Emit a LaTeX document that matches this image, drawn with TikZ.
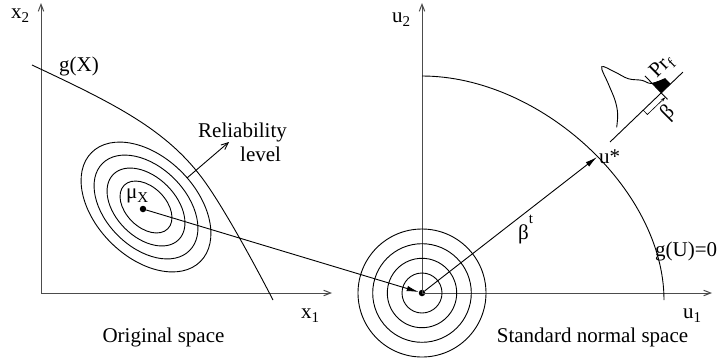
\documentclass[tikz,border=0pt]{standalone}
\usepackage{fontspec}
\setmainfont{Liberation Serif}
\usetikzlibrary{arrows.meta}
\newcommand\lsub[1]{\raisebox{-0.22em}{\fontsize{15}{15}\selectfont #1}}
\newcommand\lsup[1]{\raisebox{0.72em}{\fontsize{15}{15}\selectfont #1}}
\begin{document}
\begin{tikzpicture}[x=1pt,y=-1pt,
  lbl/.style={font=\fontsize{21}{25}\selectfont, inner sep=0pt},
  axis/.style={draw=black!70, line width=1pt, -{Straight Barb[length=7pt,width=5.5pt]}},
  curve/.style={line width=0.9pt},
  bigarrow/.style={line width=0.9pt, -{Latex[length=12pt,width=5.5pt]}},
  dot/.style={circle, fill=black, inner sep=0pt, minimum size=6.5pt}]
\useasboundingbox (0,0) rectangle (723,360);

% ---------- left panel ----------
\coordinate (O1) at (41,293);
\coordinate (X2) at (41,3);
\coordinate (X1) at (332,293);
\draw[axis] (O1) -- (X2);
\draw[axis] (O1) -- (X1);

\coordinate (EC) at (146,207);
\foreach \s in {1,0.8,0.6,0.4}
  \draw[curve, rotate around={-45:(EC)}] (EC) ellipse [x radius=77*\s, y radius=50*\s];

\draw[curve] (32,65) .. controls (115,104) and (168,130) .. (205,182)
             .. controls (225,210) and (255,265) .. (273,300);

\coordinate (RL0) at (187,178);
\coordinate (RL1) at (229,142);
\draw[curve, -{Straight Barb[length=7pt,width=6pt]}] (RL0) -- (RL1);

\node[dot] (mu) at (143,209) {};

\node[lbl, anchor=base west] (x2l) at (11,18) {x\lsub{2}};
\node[lbl, anchor=base west] (gxl) at (59,71) {g(X)};
\node[lbl, anchor=base west] (rel) at (198,137) {Reliability};
\node[lbl, anchor=base west] (lev) at (240,161) {level};
\node[lbl, anchor=base west] (mul) at (126,198) {μ\lsub{X}};
\node[lbl, anchor=base west] (x1l) at (301,318) {x\lsub{1}};
\node[lbl, anchor=base] (orig) at (163.5,342) {Original space};

% ---------- right panel ----------
\node[dot] (O2) at (422,293) {};
\coordinate (U2) at (422,3);
\coordinate (U1) at (712,293);
\draw[axis] (O2.center) -- (U2);
\draw[axis] (O2.center) -- (U1);

\foreach \r in {20,34.7,49.3,64}
  \draw[curve] (O2.center) circle[radius=\r];

\coordinate (G0) at (422,76);
\coordinate (G1) at (664,300);
\draw[curve] (G0) .. controls (540.6,76) and (664,190) .. (G1);

\coordinate (us) at (597,157);
\draw[bigarrow] (O2) -- (us);
\draw[bigarrow] (mu) -- (O2);

\node[lbl, anchor=base west] (u2l) at (392,22) {u\lsub{2}};
\node[lbl, anchor=base west] (usl) at (599,163) {u*};
\node[lbl, anchor=base west] (btl) at (518,239) {β\lsup{t}};
\node[lbl, anchor=base west] (gul) at (655,256) {g(U)=0};
\node[lbl, anchor=base west] (u1l) at (683,318) {u\lsub{1}};
\node[lbl, anchor=base] (std) at (592.5,342) {Standard normal space};

% ---------- pdf sketch ----------
\begin{scope}[shift={(610,142)}, rotate=43.8, yscale=-1]
  \draw[curve] (0,0) -- (101,0);
  \fill (71,0) -- (71,13.4) -- (77,10.5) -- (84,7.5) -- (84,0) -- cycle;
  \draw[curve] plot[smooth, tension=0.6] coordinates
    {(15,6) (25,15) (32.5,26.6) (39,43) (46,60) (52,47) (57,33) (65.6,22.6) (70.6,13.4) (84,7.5)};
  \draw[curve] (71,23.5) -- (71,-9);
  \draw[line width=0.6pt, -{Stealth[length=5pt,width=3pt]}] (46,0) -- (46,-6) -- (71,-6);
\end{scope}
\node[lbl, rotate=45] (prf) at (662,67) {Pr\lsub{f}};
\node[lbl, rotate=45] (bet) at (668,113) {β};
\end{tikzpicture}
\end{document}
